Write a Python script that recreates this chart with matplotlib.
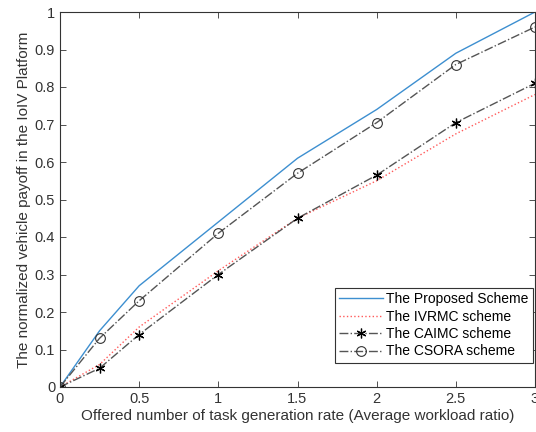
import numpy as np
import matplotlib.pyplot as plt

plt.rcParams['font.family'] = ['Liberation Sans', 'DejaVu Sans']

# offered task generation rate
x = [0, 0.25, 0.5, 1, 1.5, 2, 2.5, 3]
proposed = [0, 0.15, 0.27, 0.44, 0.61, 0.74, 0.89, 1.0]
ivrmc = [0, 0.06, 0.16, 0.31, 0.45, 0.55, 0.675, 0.78]
caimc = [0, 0.05, 0.14, 0.30, 0.45, 0.565, 0.705, 0.81]
csora = [0, 0.13, 0.23, 0.41, 0.57, 0.705, 0.86, 0.96]

fig = plt.figure(figsize=(5.36, 4.32), dpi=100)
ax = fig.add_axes([60/536, 45/432, 475/536, 375/432])

ax.plot(x, proposed, '-', color='#3d8fd0', lw=1.0, label='The Proposed Scheme')
ax.plot(x, ivrmc, ':', color='#ff5a5a', lw=1.0, label='The IVRMC scheme')
# matlab style asterisk marker
ax.plot(x, caimc, '-.', color='#555555', lw=1.0, marker=(6, 2, 0), ms=7,
        mfc='k', mec='k', mew=0.9, label='The CAIMC scheme')
ax.plot(x, csora, '-.', color='#555555', lw=1.0, marker='o', ms=7,
        mfc='none', mec='#333333', mew=0.8, label='The CSORA scheme')

ax.set_xlim(0, 3)
ax.set_ylim(0, 1)
ax.set_xticks([0, 0.5, 1, 1.5, 2, 2.5, 3])
ax.set_xticklabels(['0', '0.5', '1', '1.5', '2', '2.5', '3'])
ax.set_yticks(np.arange(0, 1.01, 0.1))
ax.set_yticklabels(['0', '0.1', '0.2', '0.3', '0.4', '0.5', '0.6', '0.7', '0.8', '0.9', '1'])
ax.tick_params(direction='in', top=True, right=True, labelsize=10.5,
               colors='#333333', length=4, width=0.6)
for s in ax.spines.values():
    s.set_color('#333333')
    s.set_linewidth(0.8)

ax.set_xlabel('Offered number of task generation rate (Average workload ratio)',
              fontsize=11, color='#333333', labelpad=2)
ax.set_ylabel('The normalized vehicle payoff in the IoIV Platform',
              fontsize=11, color='#333333', labelpad=3)

leg = ax.legend(loc='lower right', bbox_to_anchor=(0.995, 0.065), fontsize=10,
                fancybox=False, framealpha=1, edgecolor='#333333',
                borderpad=0.3, labelspacing=0.25, handlelength=3.2,
                handletextpad=0.2, borderaxespad=0)
leg.get_frame().set_linewidth(0.8)

fig.savefig('out.png', dpi=100)
